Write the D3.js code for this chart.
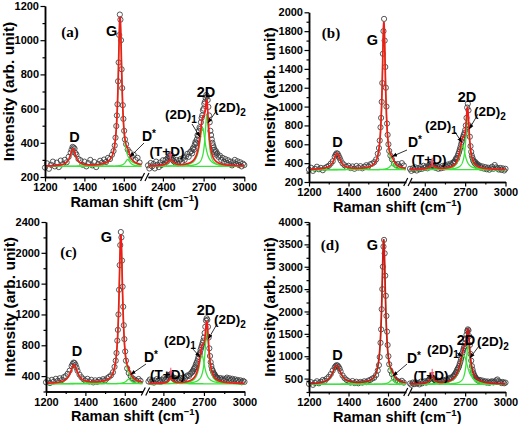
<!DOCTYPE html>
<html>
<head>
<meta charset="utf-8">
<script src="https://cdn.jsdelivr.net/npm/d3@7/dist/d3.min.js"></script>
<style>
html,body{margin:0;padding:0;background:#fff;}
svg{display:block;}
</style>
</head>
<body>
<svg id="chart" width="520" height="424"></svg>
<script>
// ================= DATA =================
// Raman shift grid of the measured points (cm^-1), shared by the four spectra
const ramanShiftLow = [1200,1210,1220,1230,1240,1250,1260,1270,1280,1290,1300,1310,1320,1330,
  1335,1340,1345,1350,1355,1360,
  1370,1380,1390,1400,1410,1420,1430,1440,1450,1460,1470,1480,1490,1500,1510,1520,1530,1540,
  1548,1554,1558,1562,1565,1568,1571,1574,1577,1580,1583,1586,1589,1592,1595,1598,1602,1606,1612,
  1620,1630,1640,1650,1660,1670,1680];
const ramanShiftHigh = [2290,2300,2310,2320,2330,2340,2350,2360,2370,2380,2390,2400,2410,2420,
  2430,2435,2440,2445,2450,2455,2460,2465,2470,2475,2480,
  2490,2500,2510,2520,2530,2540,2550,2560,2570,2580,2590,2600,
  2610,2615,2620,2625,2630,2635,2640,2645,2650,2655,2660,2665,2670,2675,2680,2685,2690,2695,2700,
  2705,2710,2715,2720,2725,2730,2735,2740,2745,2750,2755,2760,2765,2770,2775,2780,2785,2790,2795,2800,
  2810,2820,2830,2840,2850,2860,2870,2880,2890,2900,2910,2920,2930,2940,2950,2960,2970,2980,2990,3000];

// measured intensities (arb. unit)
const intensityLowA = [255,280,248,272,290,262,284,258,296,275,300,286,318,342,
  360,376,372,366,340,330,
  305,298,272,290,262,281,300,268,288,258,276,295,284,302,288,312,305,330,
  352,384,430,498,560,625,760,870,1030,1150,1120,1000,830,720,620,540,470,420,392,
  360,345,318,330,300,312,285];
const intensityHighA = [268,250,282,262,276,250,290,272,258,285,270,298,276,300,
  290,312,305,322,318,330,312,325,300,308,292,
  285,300,278,295,305,288,312,300,320,335,318,345,
  352,338,365,372,360,390,405,398,420,445,438,470,490,482,520,545,560,590,600,
  628,640,662,680,672,650,610,560,520,470,445,420,400,385,372,360,345,352,330,338,
  318,325,300,312,290,305,282,298,275,290,268,285,300,276,292,270,286,262,278,270];

const intensityLowB = [330,352,318,340,362,335,350,325,348,360,372,395,420,468,
  490,505,500,478,455,430,
  398,378,360,372,348,365,340,370,352,368,345,362,378,365,388,395,410,440,
  500,560,640,780,880,1050,1250,1560,1800,1930,1700,1420,1200,1000,820,700,600,530,480,
  440,395,380,390,365,400,375];
const intensityHighB = [340,318,345,330,355,322,348,335,360,340,372,350,365,345,
  370,385,362,392,380,398,375,388,360,372,350,
  365,340,358,345,370,352,375,360,385,372,395,380,
  405,398,420,415,440,455,448,478,500,520,545,570,600,625,660,680,700,720,750,
  800,880,990,1030,960,800,680,580,520,480,455,430,420,400,412,385,395,370,385,360,
  372,350,365,342,358,335,352,330,345,362,340,380,355,345,332,350,328,345,322,340];

const intensityLowC = [320,345,310,352,330,365,338,372,348,385,400,430,470,530,
  555,575,570,545,510,470,
  420,385,360,342,365,330,352,318,345,325,350,335,360,345,372,390,410,450,
  520,600,700,860,1000,1200,1520,1840,2100,2270,2200,1900,1560,1300,1060,880,720,600,500,
  440,400,370,355,340,362,338];
const intensityHighC = [330,355,322,345,315,340,360,332,350,325,348,370,345,362,
  380,395,410,418,405,420,398,385,370,382,355,
  372,350,368,345,375,360,385,372,395,410,402,430,
  445,460,470,490,505,520,548,570,590,620,650,680,700,740,770,800,830,860,900,
  960,1040,1120,1150,1130,1040,900,760,660,580,530,490,470,445,430,418,400,392,380,372,
  360,375,352,368,345,362,380,355,372,348,365,340,358,335,350,328,345,320,338,325];

const intensityLowD = [380,420,360,405,440,395,430,470,450,500,540,600,680,750,
  780,800,790,760,720,660,
  570,510,470,440,410,445,400,430,395,425,410,440,420,455,470,500,520,580,
  680,800,980,1300,1600,2050,2500,3000,3450,3600,3300,2800,2350,1900,1550,1250,1000,820,680,
  600,520,470,440,420,450,410];
const intensityHighD = [390,360,410,375,420,385,405,370,430,395,420,440,410,450,
  470,490,505,520,515,530,510,495,480,460,470,
  440,455,425,450,440,465,450,480,470,500,520,510,
  545,560,580,600,630,650,690,720,740,780,830,880,940,1000,1070,1130,1180,1220,1290,
  1380,1480,1560,1600,1580,1450,1250,1050,900,780,700,640,590,560,530,510,490,475,460,450,
  470,430,455,420,440,410,435,405,425,440,415,430,460,480,440,420,400,425,395,410];

// Lorentzian fit components: D, G, D*, T+D, (2D)1, (2D)2
const peakNames = ["D","G","D*","T+D","(2D)1","(2D)2"];
const peakCentersA = [1342,1581,1620,2455,2692,2724];
const peakHeightsA = [100,870,40,35,225,300];
const peakFwhmA    = [35,22,30,50,50,32];
const peakCentersB = [1342,1579,1620,2455,2680,2718];
const peakHeightsB = [170,1560,50,40,260,580];
const peakFwhmB    = [40,20,30,50,50,30];
const peakCentersC = [1342,1580,1620,2455,2685,2722];
const peakHeightsC = [240,1930,60,70,370,690];
const peakFwhmC    = [44,22,30,30,50,34];
const peakCentersD = [1340,1578,1620,2455,2690,2722];
const peakHeightsD = [420,3230,100,150,650,880];
const peakFwhmD    = [50,22,30,40,70,32];
const fitBaselines = [262,330,300,370];

// axes
const panelLabels = ["(a)","(b)","(c)","(d)"];
const xSegmentLow  = [1200,1690];
const xSegmentHigh = [2290,3000];
const xTicksLow  = [1200,1400,1600];
const xMinorLow  = [1300,1500];
const xTicksHigh = [2400,2700,3000];
const xMinorHigh = [2550,2850];
const yDomainA = [200,1200], yTicksA = [200,400,600,800,1000,1200], yMinorStepA = 100;
const yDomainB = [200,2000], yTicksB = [200,400,600,800,1000,1200,1400,1600,1800,2000], yMinorStepB = 100;
const yDomainC = [200,2400], yTicksC = [400,800,1200,1600,2000,2400], yMinorStepC = 200;
const yDomainD = [200,4000], yTicksD = [500,1000,1500,2000,2500,3000,3500,4000], yMinorStepD = 250;

const panels = [
  {label:panelLabels[0], low:intensityLowA, high:intensityHighA, centers:peakCentersA, heights:peakHeightsA, fwhm:peakFwhmA, base:fitBaselines[0], yDomain:yDomainA, yTicks:yTicksA, yMinorStep:yMinorStepA},
  {label:panelLabels[1], low:intensityLowB, high:intensityHighB, centers:peakCentersB, heights:peakHeightsB, fwhm:peakFwhmB, base:fitBaselines[1], yDomain:yDomainB, yTicks:yTicksB, yMinorStep:yMinorStepB},
  {label:panelLabels[2], low:intensityLowC, high:intensityHighC, centers:peakCentersC, heights:peakHeightsC, fwhm:peakFwhmC, base:fitBaselines[2], yDomain:yDomainC, yTicks:yTicksC, yMinorStep:yMinorStepC},
  {label:panelLabels[3], low:intensityLowD, high:intensityHighD, centers:peakCentersD, heights:peakHeightsD, fwhm:peakFwhmD, base:fitBaselines[3], yDomain:yDomainD, yTicks:yTicksD, yMinorStep:yMinorStepD}
];

// ================= LAYOUT =================
const layouts = [
  {x0:45,  xl1:141.5, xr0:148,   x1:244.3, yTop:6,    yBot:177,   yTitleX:8.5},
  {x0:309, xl1:405.8, xr0:410,   x1:505.5, yTop:12.3, yBot:182,   yTitleX:269.5},
  {x0:46,  xl1:142.5, xr0:148.5, x1:244.5, yTop:222,  yBot:391.5, yTitleX:10},
  {x0:309, xl1:405.8, xr0:410,   x1:505.5, yTop:222,  yBot:392,   yTitleX:270}
];
// text positions relative to (x0, yTop); arrows: [startDx, startDy, tipShift, tipIntensity]
const annotLayouts = [
  {panel:[25,26], G:[66.7,25], D:[29.5,131], Ds:[104,130], TD:[122,145], twoD:[161,86], twoD2:[185,101], twoD1:[136,108],
   arrows:[[99,137,1631,317],[147,118,2673,434],[172,104,2732,516]], red:[2455,305]},
  {panel:[22,20], G:[63.5,28], D:[28.5,129.7], Ds:[106,130.2], TD:[120,146.7], twoD:[158,84.7], twoD2:[181,98.7], twoD1:[132,113.2],
   arrows:[[98,137.7,1620,470],[146,119.7,2675,620],[169,101.7,2730,760]], red:[2455,372]},
  {panel:[22.5,30], G:[60.5,15], D:[31,129], Ds:[105,135], TD:[121.5,152], twoD:[160,88], twoD2:[184,97], twoD1:[134,118.5],
   arrows:[[100,142,1630,420],[146,126,2671,648],[171,102,2732,880]], red:[2455,405]},
  {panel:[21,23], G:[63.5,23], D:[28.5,133], Ds:[105,136], TD:[122,153], twoD:[157,118], twoD2:[184,119], twoD1:[134,127.5],
   arrows:[[98,142,1625,560],[148,131,2680,1000],[170,124,2736,960]], red:[2455,540]}
];

const FONT = "'Liberation Sans', Arial, Helvetica, sans-serif";
const SERIF = "'Liberation Serif', 'Times New Roman', serif";
const RED = "#f41a1a", GREEN = "#3ee23e", CIRCLE = "#3a3a3a";

const svg = d3.select("#chart");
const defs = svg.append("defs");
[["arrK","#000"],["arrR","#f0506a"]].forEach(([id,c])=>{
  defs.append("marker").attr("id",id).attr("viewBox","0 0 10 10").attr("refX",10).attr("refY",5)
    .attr("markerWidth",5).attr("markerHeight",5).attr("markerUnits","userSpaceOnUse").attr("orient","auto")
    .append("path").attr("d","M0,1L10,5L0,9z").attr("fill",c);
});

function styleAxis(sel){
  sel.select(".domain").attr("stroke","#000").attr("stroke-width",1.5);
  sel.selectAll(".tick line").attr("stroke","#000").attr("stroke-width",1.2);
  sel.selectAll(".tick text").attr("font-family",FONT).attr("font-weight","bold").attr("font-size",11).attr("fill","#000");
}

panels.forEach((p,i)=>{
  const L = layouts[i], A = annotLayouts[i];
  const g = svg.append("g");
  const xl = d3.scaleLinear().domain(xSegmentLow).range([L.x0,L.xl1]);
  const xr = d3.scaleLinear().domain(xSegmentHigh).range([L.xr0,L.x1]);
  const X = v => v < 2000 ? xl(v) : xr(v);
  const y = d3.scaleLinear().domain(p.yDomain).range([L.yBot,L.yTop]);

  const comp = (x,k) => p.heights[k]/(1+Math.pow((x-p.centers[k])/(p.fwhm[k]/2),2));
  const total = x => p.base + d3.sum(p.centers,(c,k)=>comp(x,k));
  const line = d3.line().x(d=>X(d[0])).y(d=>y(d[1]));

  const segs = [d3.range(xSegmentLow[0], xSegmentLow[1]+0.5, 1), d3.range(xSegmentHigh[0], xSegmentHigh[1]+0.5, 1)];

  // measured points
  const pts = ramanShiftLow.map((s,j)=>[s,p.low[j]]).concat(ramanShiftHigh.map((s,j)=>[s,p.high[j]]))
    .filter(d=>d[1]!==undefined);
  g.append("g").selectAll("circle").data(pts).join("circle")
    .attr("cx",d=>X(d[0])).attr("cy",d=>y(d[1])).attr("r",2.6)
    .attr("fill","none").attr("stroke",CIRCLE).attr("stroke-width",0.85);

  // green components (each drawn over its own segment)
  p.centers.forEach((c,k)=>{
    const seg = c < 2000 ? segs[0] : segs[1];
    g.append("path").datum(seg.map(x=>[x,p.base+comp(x,k)])).attr("d",line)
      .attr("fill","none").attr("stroke",GREEN).attr("stroke-width",1.3);
  });
  // red cumulative fit
  segs.forEach(seg=>{
    g.append("path").datum(seg.map(x=>[x,total(x)])).attr("d",line)
      .attr("fill","none").attr("stroke", i===3 ? "#d01818" : RED).attr("stroke-width",1.7);
  });

  // axes
  const gxl = g.append("g").attr("transform",`translate(0,${L.yBot})`);
  gxl.call(d3.axisBottom(xl).tickValues(xMinorLow).tickSize(2.5).tickSizeOuter(0).tickFormat("")).call(styleAxis);
  gxl.append("g").call(d3.axisBottom(xl).tickValues(xTicksLow).tickSize(4.5).tickPadding(2).tickSizeOuter(0).tickFormat(d3.format("d"))).call(styleAxis);
  const gxr = g.append("g").attr("transform",`translate(0,${L.yBot})`);
  gxr.call(d3.axisBottom(xr).tickValues(xMinorHigh).tickSize(2.5).tickSizeOuter(0).tickFormat("")).call(styleAxis);
  gxr.append("g").call(d3.axisBottom(xr).tickValues(xTicksHigh).tickSize(4.5).tickPadding(2).tickSizeOuter(0).tickFormat(d3.format("d"))).call(styleAxis);

  const yMinor = d3.range(p.yDomain[0], p.yDomain[1]+1, p.yMinorStep).filter(v=>!p.yTicks.includes(v));
  const gy = g.append("g").attr("transform",`translate(${L.x0},0)`);
  gy.call(d3.axisLeft(y).tickValues(yMinor).tickSize(2.5).tickSizeOuter(0).tickFormat("")).call(styleAxis);
  gy.append("g").call(d3.axisLeft(y).tickValues(p.yTicks).tickSize(4.5).tickPadding(1.5).tickSizeOuter(0).tickFormat(d3.format("d"))).call(styleAxis);

  // axis break marks
  const mid = (L.xl1+L.xr0)/2;
  [-2.2,2.2].forEach(o=>{
    g.append("line").attr("x1",mid+o-2).attr("y1",L.yBot+4).attr("x2",mid+o+2).attr("y2",L.yBot-4)
      .attr("stroke","#000").attr("stroke-width",1.2);
  });

  // axis titles
  const xt = g.append("text").attr("x",(L.x0+L.x1)/2-10).attr("y",L.yBot+29.5)
    .attr("text-anchor","middle").attr("font-family",FONT).attr("font-weight","bold").attr("font-size",14.5);
  xt.append("tspan").text("Raman shift (cm");
  xt.append("tspan").attr("dy",-6).attr("font-size",9.5).text("\u22121");
  xt.append("tspan").attr("dy",6).text(")");
  g.append("text").attr("transform",`translate(${L.yTitleX},${(L.yTop+L.yBot)/2}) rotate(-90)`)
    .attr("text-anchor","middle").attr("dy","0.35em").attr("font-family",FONT).attr("font-weight","bold").attr("font-size",15.5)
    .text("Intensity (arb. unit)");

  // panel label
  g.append("text").attr("x",L.x0+A.panel[0]).attr("y",L.yTop+A.panel[1]).attr("dy","0.35em")
    .attr("text-anchor","middle").attr("font-family",SERIF).attr("font-weight","bold").attr("font-size",15).text(p.label);

  // peak labels
  const lab = (pos, main, sup, sub, size) => {
    const t = g.append("text").attr("x",L.x0+pos[0]).attr("y",L.yTop+pos[1]).attr("dy","0.35em")
      .attr("text-anchor","middle").attr("font-family",FONT).attr("font-weight","bold").attr("font-size",size||14.5);
    t.append("tspan").text(main);
    if (sup) t.append("tspan").attr("dy",-4).attr("font-size",10).text(sup);
    if (sub) t.append("tspan").attr("dy",4).attr("font-size",10).text(sub);
  };
  lab(A.G, peakNames[1]);
  lab(A.D, peakNames[0]);
  lab(A.Ds, "D", "*", null, 14);
  lab(A.TD, "(" + peakNames[3] + ")", null, null, 13.5);
  lab(A.twoD, "2D");
  lab(A.twoD2, "(2D)", null, "2", 13.5);
  lab(A.twoD1, "(2D)", null, "1", 13.5);

  // arrows
  A.arrows.forEach(a=>{
    g.append("line").attr("x1",L.x0+a[0]).attr("y1",L.yTop+a[1]).attr("x2",X(a[2])).attr("y2",y(a[3]))
      .attr("stroke","#000").attr("stroke-width",0.8).attr("marker-end","url(#arrK)");
  });
  const rx = X(A.red[0]), ry = y(A.red[1]);
  g.append("line").attr("x1",rx).attr("y1",ry-8).attr("x2",rx).attr("y2",ry)
    .attr("stroke","#f0506a").attr("stroke-width",1).attr("marker-end","url(#arrR)");
});
</script>
</body>
</html>
